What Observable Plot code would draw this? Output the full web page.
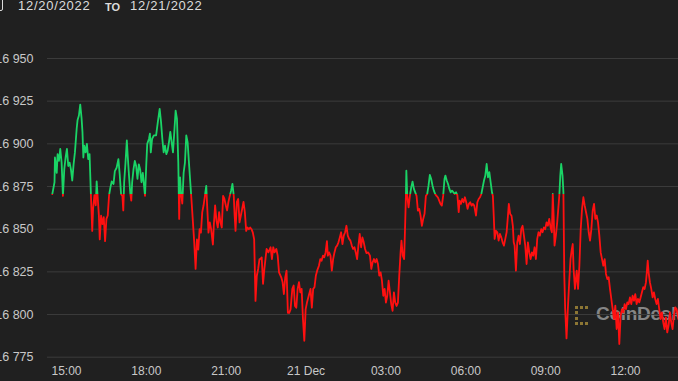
<!DOCTYPE html>
<html>
<head>
<meta charset="utf-8">
<script src="https://cdn.jsdelivr.net/npm/d3@7"></script>
<script src="https://cdn.jsdelivr.net/npm/@observablehq/plot@0.6"></script>
<style>
html,body{margin:0;padding:0;background:#202020;width:678px;height:381px;overflow:hidden;font-family:"Liberation Sans",Arial,sans-serif}
#wrap{position:relative;width:678px;height:381px;overflow:hidden}
#title{position:absolute;left:0;top:0;width:678px;height:14px;color:#dcdcdc;z-index:2}
#title span{position:absolute;top:0px;line-height:12px;white-space:nowrap}
.d{font-size:13px;letter-spacing:0.75px}
.to{font-size:11px;font-weight:bold;top:1px !important}
#cal{position:absolute;left:-8px;top:-2px;width:9px;height:11px;border:1.5px solid #dcdcdc;border-radius:2px}
#wm{position:absolute;left:575px;top:305px;z-index:0;height:22px;white-space:nowrap}
#wm .logo{position:absolute;left:0px;top:1px;width:10px;height:13px;border-left:3px dotted #8c7634;border-top:3px dotted #8c7634;border-bottom:3px dotted #8c7634}
#wm .txt{position:absolute;left:21px;top:-2px;font-size:19px;font-weight:bold;color:#858585;letter-spacing:-0.3px}
#chart{position:absolute;left:0;top:0;z-index:1}
</style>
</head>
<body>
<div id="wrap">
  <div id="title"><div id="cal"></div><span class="d" style="left:18px">12/20/2022</span><span class="to" style="left:105px">TO</span><span class="d" style="left:130px">12/21/2022</span></div>
  <div id="wm"><div class="logo"></div><div class="txt">CoinDesk</div></div>
  <div id="chart"></div>
</div>
<script>
// Minutes elapsed since 2022-12-20 14:00 UTC
const minutes = [
28,33,34,38,40,43,46,49,52,55,58,61,64,67,70,73,76,79,83,85,88,91,94,96,98,100,103,106,109,112,
115,118,120,123,126,128,130,133,135,138,141,144,147,150,153,156,159,162,166,169,173,177,180,183,186,188,190,193,196,198,
201,204,206,208,211,214,217,220,223,226,229,232,237,240,242,246,248,250,253,257,
262,266,270,273,276,279,282,285,288,291,294,297,300,303,306,309,312,314,316,318,
321,324,327,330,333,336,339,342,345,348,351,354,357,360,363,366,369,372,375,377,
380,383,386,390,392,395,398,401,404,407,410,413,416,419,422,425,428,431,434,437,
439,441,444,447,450,453,456,459,462,465,468,471,474,477,480,483,486,489,492,495,
497,500,503,506,511,515,520,523,526,529,533,536,539,544,547,550,553,556,559,562,
565,569,572,575,578,581,584,587,590,593,596,599,602,606,610,613,616,619,622,625,
629,632,635,638,641,644,647,649,652,655,658,661,664,667,670,673,676,679,682,685,
688,691,694,697,700,703,706,709,712,715,718,721,724,727,730,733,
736,740,744,747,750,753,756,759,762,765,768,771,774,777,780,783,786,789,792,795,
798,801,804,807,810,813,815,818,821,823,825,826,828,831,834,837,840,843,846,849,
852,855,858,861,864,867,870,873,876,879,882,885,888,891,894,897,900,903,906,909,
912,914,917,920,923,926,929,932,935,938,941,944,946,949,952,955,958,961,964,967,970,973,
976,979,983,986,989,992,995,998,1001,1004,1007,1010,1013,1016,1019,1021,1023,1025,1028,1031,
1034,1037,1040,1043,1046,1049,1052,1055,1057,1060,1063,1066,1068,1070,1073,1076,1079,1082,1085,1088,
1091,1094,1097,1100,1103,1106,1109,1112,1115,1118,1121,1124,1127,1130,1133,1136,1139,1142,1145,1148,
1151,1154,1156,1158,1160,1163,1166,1169,1171,1173,1175,1178,1180,1182,1184,1187,1190,1193,1196,1199,
1201,1203,1206,
1210,1213,1216,1219,1222,1225,1228,1231,1234,1237,1240,1243,1246,1249,1252,1255,1258,1261,1264,1267,
1270,1273,1276,1279,1282,1285,1288,1291,1294,1297,1300,1303,1306,1309,1312,1315,1318,1321,1324,1327,
1330,1333,1336,1339,1342,1345,1348,1351,1354,1357,1360,1363,1366,1368,1370,1372,1375,1378,1381,1384,
1387,1390,1393,1396,1399,1402,1405,1408,1411,1414,1417,1420,1423,1426,1429,1432,1435,1438,1439
];
// BTC price (USD) at each of those minutes
const prices = [
16870.5,16877.5,16892,16883,16894,16890,16897,16889,16869.5,16885,16892,16897,16887,16889,16885,16878.5,16888,16895,16909,16914,
16916.6,16923,16915,16907,16892,16899,16895,16900,16891,16894,16870.5,16849,16862,16870,16864,16878,16870,16858,16844,16858,
16853,16857,16843,16856,16858,16870,16874.5,16878,16876.5,16884,16886,16891,16882,16870.5,16869.5,16861,16877.5,16889,16902,16893,
16881,16870.5,16866.7,16877.5,16885,16890,16887,16879.5,16888,16885,16877.5,16883,16869.5,16889,16900,16903,16906,16895,16903,16905,
16905,16913,16920.5,16913,16903,16895,16899,16894,16896,16901,16907,16901,16895,16907,16919.5,16914.6,16889,16856,16880.4,16871.6,
16865,16883,16889,16905,16901,16889,16877.5,16866,16854,16842,16826.7,16844,16838,16850,16848,16860,16864,16869.5,16875.4,16864,
16848,16854,16850,16841,16852,16864,16855,16851,16860,16854,16851,16869.5,16867.7,16864,16861,16866,16869.5,16872.5,16876.5,16869.5,
16858,16849,16866,16867.7,16854,16858,16862,16866,16860,16849,16851,16850,16851,16850,16848,16844,16808,16822.7,16826.7,16832.5,
16832.5,16833.5,16818,16826.7,16838.4,16836.4,16839.4,16832.5,16839.4,16836.4,16838.4,16834.5,16824.7,16821.8,16819,16812,16821.8,16825.7,16801,16801,
16803,16815,16817,16805,16804,16815,16819,16813,16815,16797.3,16784.6,16803,16807,16811,16815,16804,16815,16816,16822.7,16825.7,
16828.6,16832.5,16831.5,16834.5,16833.5,16836.4,16843,16834.5,16836.4,16834.5,16825.7,16832.5,16836.4,16839.4,16840.4,16842.3,16845.2,16848.2,16841.3,16846.2,
16848.2,16852,16846.2,16844.3,16843.3,16840.4,16838.4,16839.4,16836.4,16832.5,16840.4,16847.2,16839.4,16845.2,16842.3,16838.4,
16836,16836.4,16834.5,16826.7,16830.6,16832.5,16830.6,16832.5,16829.6,16822.8,16824.7,16819.8,16811,16815,16807,16811,16819.8,16813,16806,16802.2,
16813,16807,16805,16807,16822.8,16836.4,16843.3,16834.5,16832.5,16850,16869.5,16884.3,16869.5,16862.8,16869.5,16874.5,16877.9,16873.6,16871.6,16869.5,
16860.9,16861.9,16857.9,16852,16856,16859,16869.5,16870.6,16875.5,16881.8,16879.4,16875.5,16872.6,16870.6,16869.5,16868.7,16866.7,16864.8,16863.8,16869.5,
16879.4,16881.4,16878.5,16876.5,16873.6,16871.6,16872.6,16871.6,16870.6,16871.6,16870,16860,16866.7,16864.8,16867.7,16865.8,16868.7,16865.8,16861.9,16864.8,16865.8,16863.8,
16864.8,16863.8,16858,16865.8,16867.7,16868.7,16870.6,16874.5,16878.5,16881.4,16888.2,16880.4,16883.4,16877.5,16871.6,16869.5,16857.9,16844.3,16849.1,16848.2,
16843.3,16847.2,16845.2,16842.3,16840.4,16844.3,16848.2,16857.9,16864.8,16858.9,16857.9,16852,16842.3,16840.4,16825.7,16842.3,16846.2,16841.3,16850,16852,
16846.2,16840.4,16829.6,16842.3,16836.4,16832.5,16836.4,16834.5,16839.4,16832.5,16844.3,16848.2,16846.2,16850,16848.2,16851,16850,16854,16852,16856,
16851,16848.2,16870.6,16857.9,16840.4,16846.2,16854,16863.8,16870.6,16881.4,16888.2,16881.4,16871.6,16822.8,16803.2,16786,16803.2,16818.8,16832.5,16838.4,
16841.3,16826.7,16815,
16825.7,16815,16828.6,16850,16861.9,16868.7,16863.8,16859.9,16856,16848.2,16843.3,16850,16860.9,16864.8,16856,16858,16854,16846.2,16836.4,16832.5,
16828.6,16832.5,16823.8,16820.8,16821.8,16815,16809.1,16803.2,16797.3,16805.2,16791.5,16801.2,16782.7,16799.3,16803.2,16801.2,16806.1,16803.2,16807.1,16806.1,
16810,16806.1,16811,16808.1,16812,16806.1,16809.1,16807.1,16810,16813,16816,16815,16818.8,16824.7,16831.5,16824.7,16818.8,16815,16810,16813,
16809.1,16806.1,16809.1,16803.2,16797.3,16801.2,16795.4,16791.5,16798.3,16789.5,16793.4,16801.2,16795.4,16791.5,16799.3,16804.2,16803.2,16799.3,16797.3
];
const openPrice = 16870.5; // green above, red below
const yTicks = [16775, 16800, 16825, 16850, 16875, 16900, 16925, 16950];
const xTickTimes = ["2022-12-20T15:00Z","2022-12-20T18:00Z","2022-12-20T21:00Z","2022-12-21T00:00Z","2022-12-21T03:00Z","2022-12-21T06:00Z","2022-12-21T09:00Z","2022-12-21T12:00Z"];
const xTickLabels = ["15:00","18:00","21:00","21 Dec","03:00","06:00","09:00","12:00"];

const t0 = Date.UTC(2022, 11, 20, 14, 0);
const data = minutes.map((m, i) => ({date: new Date(t0 + m * 60000), price: prices[i]}));
const tickDates = xTickTimes.map(s => new Date(s));
const labelMap = new Map(tickDates.map((d, i) => [+d, xTickLabels[i]]));

const W = 678, H = 381;
const chart = Plot.plot({
  width: W, height: H,
  marginLeft: 47, marginRight: 0, marginTop: 58, marginBottom: 24.3,
  style: {background: "transparent", color: "#c8c8c8", fontSize: "12px", fontFamily: "'Liberation Sans', Arial, sans-serif"},
  x: {type: "utc", domain: [new Date(Date.UTC(2022,11,20,14,17,12)), new Date(Date.UTC(2022,11,21,13,59,24))],
      ticks: tickDates, tickFormat: d => labelMap.get(+d) ?? "", tickSize: 0, tickPadding: 9, label: null},
  y: {domain: [16775, 16950], ticks: yTicks, tickFormat: d => d3.format(",")(d).replace(",", " "), tickSize: 0, tickPadding: 14, label: null},
  marks: [
    Plot.ruleY(yTicks, {stroke: "#3b3b3b", strokeWidth: 1}),
    Plot.line(data, {x: "date", y: "price", stroke: "url(#priceGrad)", strokeWidth: 1.8, strokeLinejoin: "round"})
  ]
});

// gradient: green above the opening price, red below
const ys = chart.scale("y");
const yPos = d3.scaleLinear(ys.domain, ys.range)(openPrice);
const off = yPos / H;
const svg = d3.select(chart.tagName.toLowerCase() === "svg" ? chart : chart.querySelector("svg"));
const grad = svg.insert("defs", ":first-child").append("linearGradient")
  .attr("id", "priceGrad").attr("gradientUnits", "userSpaceOnUse")
  .attr("x1", 0).attr("x2", 0).attr("y1", 0).attr("y2", H);
grad.append("stop").attr("offset", off).attr("stop-color", "#1ad466");
grad.append("stop").attr("offset", off).attr("stop-color", "#ff1010");
svg.selectAll('g[aria-label="line"], g[aria-label="line"] path').attr("stroke", "url(#priceGrad)");
// y tick labels slightly larger, as in the reference
svg.selectAll('g[aria-label="y-axis tick label"] text, g[aria-label="y-axis"] text').style("font-size", "12.5px");

document.getElementById("chart").appendChild(chart);
</script>
</body>
</html>
